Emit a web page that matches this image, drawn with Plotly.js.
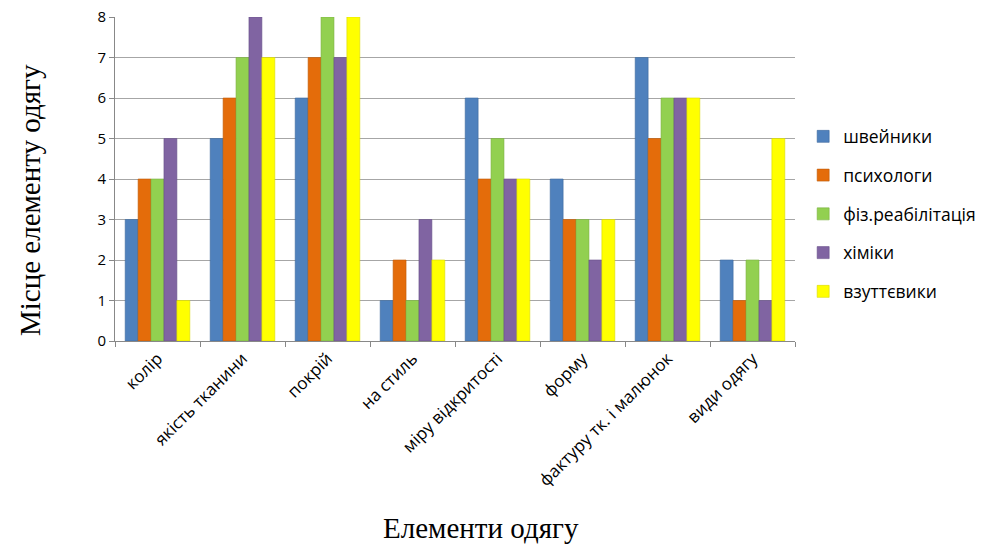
<!DOCTYPE html>
<html><head><meta charset="utf-8">
<script src="https://cdn.plot.ly/plotly-3.0.1.min.js"></script>
<style>html,body{margin:0;padding:0;background:#fff}</style>
</head><body><div id="chart" style="width:993px;height:549px"></div>
<script>
const categories = ["колір","якість тканини","покрій","на стиль","міру відкритості","форму","фактуру тк. і малюнок","види одягу"];
const seriesNames = ["швейники","психологи","фіз.реабілітація","хіміки","взуттєвики"];
const shveinyky = [3,5,6,1,6,4,7,2];
const psykholohy = [4,6,7,2,4,3,5,1];
const fizreab = [4,7,8,1,5,3,6,2];
const khimiky = [5,8,7,3,4,2,6,1];
const vzuttievyky = [1,7,8,2,4,3,6,5];
const seriesValues = [shveinyky, psykholohy, fizreab, khimiky, vzuttievyky];
const xTitle = "Елементи одягу";
const yTitle = "Місце елементу одягу";
const colors = ["#4F81BD","#E46C0A","#92D050","#8064A2","#FFFF00"];
const lines = ["#3d6a9e","#c05a08","#7ab03f","#68508a","#d8d800"];

const data = seriesNames.map((n,i)=>({
  type:"bar", name:n, x:categories, y:seriesValues[i], legendgroup:"g"+i,
  marker:{color:colors[i], line:{color:lines[i], width:0.6}}
}));

const serif = "Liberation Serif, Times New Roman, serif";
const layout = {
  width:993, height:549,
  margin:{l:115, r:198, t:17, b:208, autoexpand:false},
  paper_bgcolor:"#fff", plot_bgcolor:"#fff",
  barmode:"group", bargap:0.24, bargroupgap:0,
  font:{family:"Open Sans, sans-serif", color:"#000"},
  xaxis:{
    tickangle:-45, tickfont:{size:17, family:"Open Sans, sans-serif"},
    showline:true, linecolor:"#888", linewidth:1,
    ticks:"outside", ticklen:5, tickcolor:"#888", tickson:"boundaries",
    showgrid:false, automargin:false
  },
  yaxis:{
    range:[0,8], dtick:1, tick0:0,
    tickfont:{size:15, family:"Open Sans, sans-serif"},
    showline:true, linecolor:"#888", linewidth:1,
    ticks:"outside", ticklen:5, tickcolor:"#888",
    gridcolor:"#a6a6a6", gridwidth:1, zeroline:false, automargin:false
  },
  annotations:[
    {text:yTitle, xref:"paper", yref:"paper", x:-0.125, y:0.435, textangle:-90,
     xanchor:"center", yanchor:"middle", showarrow:false, font:{family:serif, size:29}},
    {text:xTitle, xref:"paper", yref:"paper", x:0.538, y:-0.578,
     xanchor:"center", yanchor:"middle", showarrow:false, font:{family:serif, size:29}}
  ],
  legend:{x:1.012, y:0.392, xanchor:"left", yanchor:"middle",
    font:{size:17.5, family:"Open Sans, sans-serif"}, tracegroupgap:13, itemwidth:30},
  showlegend:true
};
Plotly.newPlot("chart", data, layout, {displayModeBar:false, staticPlot:true});
</script></body></html>
